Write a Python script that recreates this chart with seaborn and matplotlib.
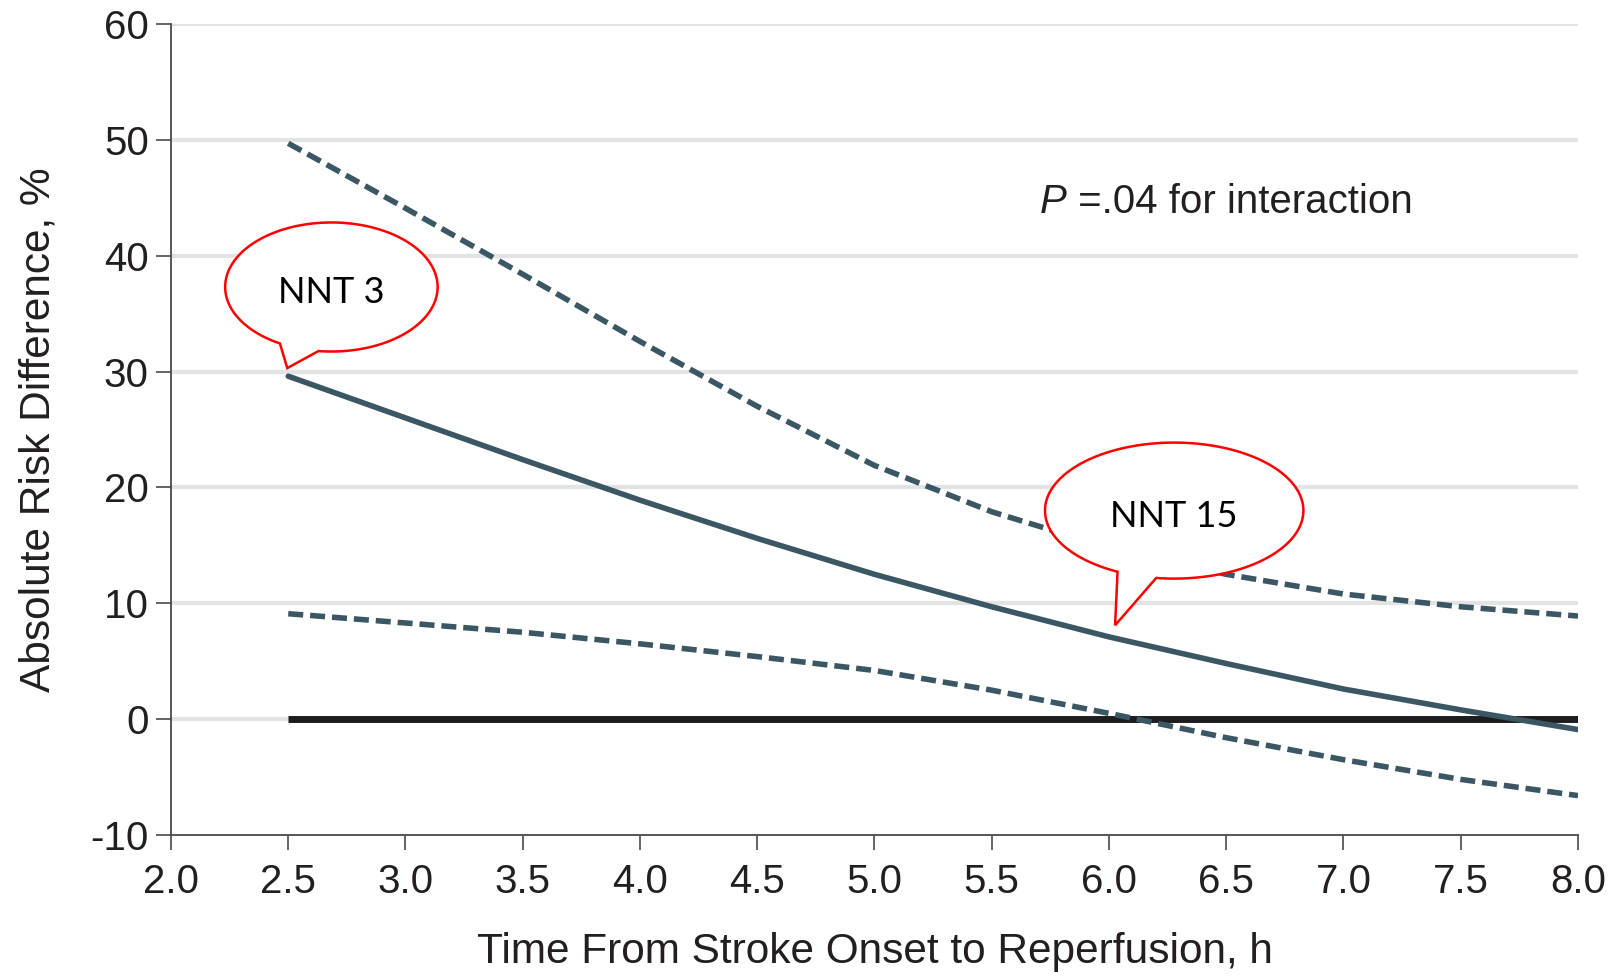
import numpy as np
import pandas as pd
import matplotlib.pyplot as plt
import seaborn as sns
from matplotlib.patches import Polygon

# values
hours = [2.5, 3.0, 3.5, 4.0, 4.5, 5.0, 5.5, 6.0, 6.5, 7.0, 7.5, 8.0]
risk_diff = [29.6, 26.0, 22.4, 18.9, 15.6, 12.5, 9.7, 7.1, 4.8, 2.6, 0.8, -0.9]
ci_upper = [49.7, 44.1, 38.4, 32.6, 27.0, 21.9, 17.9, 14.8, 12.5, 10.8, 9.7, 8.9]
ci_lower = [9.1, 8.3, 7.5, 6.5, 5.4, 4.2, 2.5, 0.5, -1.6, -3.5, -5.2, -6.6]
y_ticks = [-10, 0, 10, 20, 30, 40, 50, 60]
x_ticks = [2.0, 2.5, 3.0, 3.5, 4.0, 4.5, 5.0, 5.5, 6.0, 6.5, 7.0, 7.5, 8.0]

df = pd.DataFrame({"hours": hours, "risk": risk_diff, "upper": ci_upper, "lower": ci_lower})

sns.set_style("white")
plt.rcParams["font.family"] = ["Liberation Sans", "DejaVu Sans"]

line_col = "#3b5763"
text_col = "#231f20"

fig = plt.figure(figsize=(16.15, 9.77), dpi=100)
ax = fig.add_axes([171 / 1615, 142 / 977, 1407 / 1615, 811 / 977])

# light horizontal grid
for yv in y_ticks[1:]:
    ax.axhline(yv, color="#e2e3e4", lw=3, zorder=0)

# zero reference line
ax.plot([hours[0], hours[-1]], [0, 0], color="#1d1d1f", lw=5, solid_capstyle="butt", zorder=2)

sns.lineplot(data=df, x="hours", y="risk", ax=ax, color=line_col, lw=4, zorder=3)
for col in ["upper", "lower"]:
    sns.lineplot(data=df, x="hours", y=col, ax=ax, color=line_col, lw=4,
                 zorder=3).lines[-1].set_dashes((2.7, 1.25))

ax.set_xlim(2.0, 8.0)
ax.set_ylim(-10, 60)
ax.set_xticks(x_ticks)
ax.set_xticklabels([f"{v:.1f}" for v in x_ticks])
ax.set_yticks(y_ticks)
ax.set_yticklabels(["-10"] + [str(v) for v in y_ticks[1:]])
ax.tick_params(direction="out", length=11, width=1.2, color="#4a4a4a",
               labelsize=29, labelcolor=text_col, pad=5, left=True, bottom=True)
ax.tick_params(axis="x", pad=9)
sns.despine(ax=ax)
for s in ["left", "bottom"]:
    ax.spines[s].set_color("#4a4a4a")
    ax.spines[s].set_linewidth(1.3)

ax.set_xlabel("Time From Stroke Onset to Reperfusion, h", fontsize=30.5, color=text_col)
ax.set_ylabel("Absolute Risk Difference, %", fontsize=30.5, color=text_col)
ax.xaxis.set_label_coords(0.5, -0.119)
ax.yaxis.set_label_coords(-0.08, 0.5)

# P value note
p = ax.text(5.705, 43.7, "P", fontsize=29, style="italic", color=text_col, va="baseline")
ax.annotate(" =.04 for interaction", xy=(1, 0), xycoords=p, va="bottom",
            fontsize=29, color=text_col)


def bubble(cx, cy, a, b, t1, t2, tip, label):
    th = np.radians(np.linspace(t2, t1 + 360, 200))
    pts = np.column_stack([cx + a * np.cos(th), cy + b * np.sin(th)])
    pts = np.vstack([pts, tip])
    ax.add_patch(Polygon(pts, closed=True, facecolor="white", edgecolor="#ff0000",
                         lw=1.8, zorder=5))
    ax.text(cx, cy - 0.5, label, fontsize=26, family=["Lato", "DejaVu Sans"], color="black",
            ha="center", va="center", zorder=6)


bubble(2.684, 37.3, 0.453, 5.57, 241, 263, (2.496, 30.3), "NNT 3")
bubble(6.278, 18.0, 0.551, 5.87, 244, 262, (6.026, 8.1), "NNT 15")

fig.savefig("out.png", dpi=100)
